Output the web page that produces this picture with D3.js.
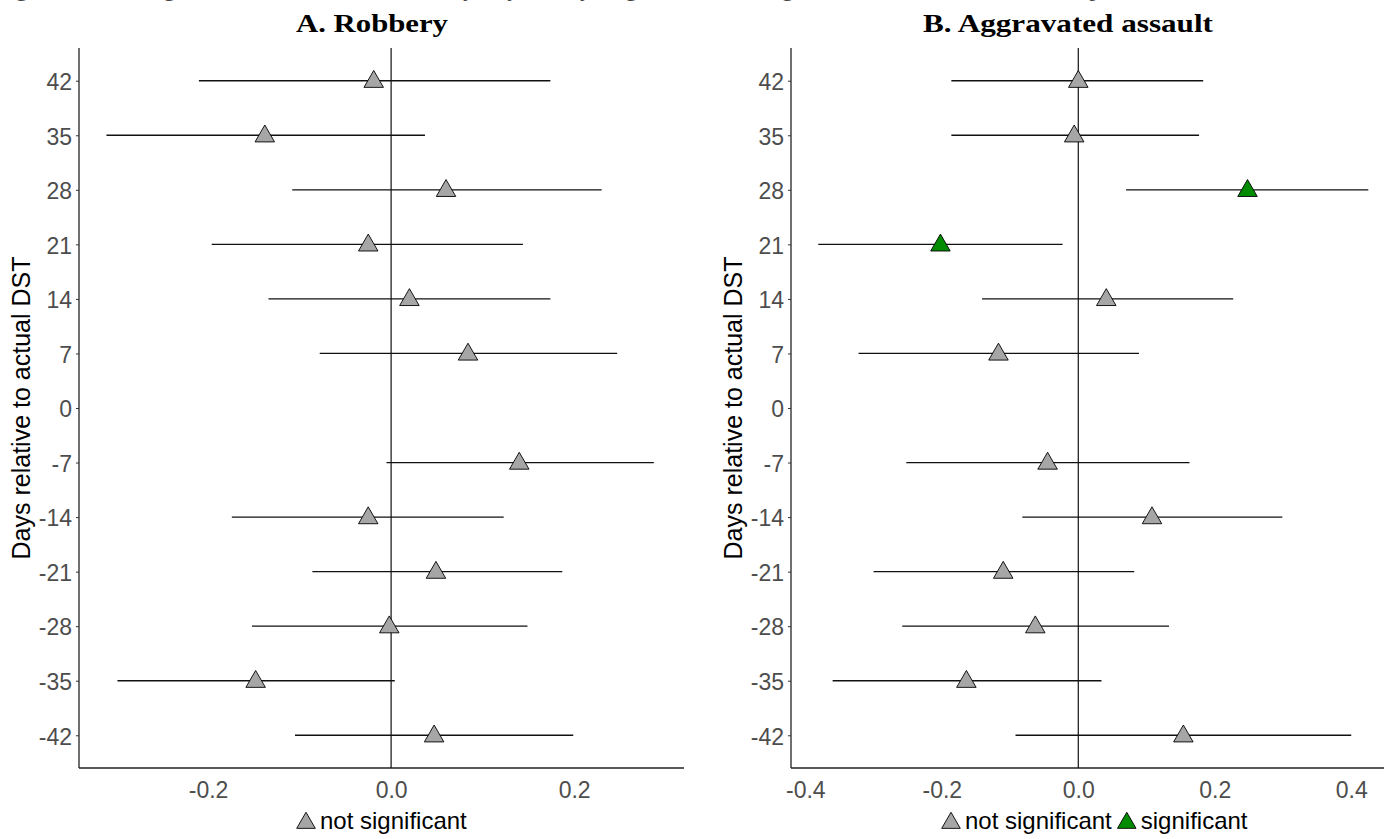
<!DOCTYPE html>
<html>
<head>
<meta charset="utf-8">
<script src="https://cdn.jsdelivr.net/npm/d3@7"></script>
<style>
  body { margin: 0; background: #fff; }
  svg { display: block; }
</style>
</head>
<body>
<svg id="chart"></svg>
<script>
const width = 1385, height = 839;

// days relative to actual DST (0 has no estimate)
const days = [42, 35, 28, 21, 14, 7, 0, -7, -14, -21, -28, -35, -42];
const estDays = [42, 35, 28, 21, 14, 7, -7, -14, -21, -28, -35, -42];

// A. Robbery
const robEst = [-0.019, -0.138, 0.060, -0.025, 0.020, 0.084, 0.140, -0.025, 0.049, -0.002, -0.148, 0.047];
const robLo  = [-0.210, -0.311, -0.108, -0.196, -0.134, -0.078, -0.005, -0.174, -0.086, -0.152, -0.299, -0.105];
const robHi  = [0.174, 0.037, 0.230, 0.144, 0.174, 0.247, 0.287, 0.123, 0.187, 0.149, 0.004, 0.199];
const robSig = [0, 0, 0, 0, 0, 0, 0, 0, 0, 0, 0, 0];

// B. Aggravated assault
const aggEst = [0.000, -0.006, 0.248, -0.202, 0.041, -0.117, -0.045, 0.108, -0.110, -0.063, -0.164, 0.154];
const aggLo  = [-0.186, -0.186, 0.070, -0.381, -0.141, -0.322, -0.252, -0.082, -0.300, -0.258, -0.360, -0.092];
const aggHi  = [0.183, 0.177, 0.425, -0.023, 0.227, 0.089, 0.163, 0.299, 0.082, 0.133, 0.034, 0.400];
const aggSig = [0, 0, 1, 1, 0, 0, 0, 0, 0, 0, 0, 0];

const robTicks = [-0.2, 0.0, 0.2];
const aggTicks = [-0.4, -0.2, 0.0, 0.2, 0.4];

const svg = d3.select("#chart").attr("width", width).attr("height", height);

const sans = "Liberation Sans, Arial, Helvetica, sans-serif";
const serif = "Liberation Serif, Times New Roman, serif";
const fillFor = s => s ? "#008b00" : "#a6a6a6";
const fmtX = d => d3.format(".1f")(d).replace("\u2212", "-");

// caption of the page, cut off at the top edge (only descenders show)
svg.append("text").attr("x", -14).attr("y", -4)
  .attr("font-family", serif).attr("font-size", 24).attr("fill", "#444")
  .attr("textLength", 1400)
  .text("Figure 5: Regression discontinuity by varying the saving of the time switch, placebo date variates");

const y = d3.scaleLinear().domain([-46.2, 46.2]).range([768, 48]);

function panel(opts) {
  const { x0, x1, domain, ticks, title, titleX, titleW, est, lo, hi, sig, legend } = opts;
  const x = d3.scaleLinear().domain(domain).range([x0, x1]);
  const g = svg.append("g");

  // axes
  const ya = g.append("g").attr("transform", `translate(${x0},0)`)
    .call(d3.axisLeft(y).tickValues(days).tickSize(3).tickPadding(4).tickFormat(d => String(d)));
  const xa = g.append("g").attr("transform", "translate(0,768)")
    .call(d3.axisBottom(x).tickValues(ticks).tickSize(0).tickPadding(14).tickFormat(fmtX));
  [ya, xa].forEach(a => {
    a.select(".domain").attr("stroke", "#222").attr("stroke-width", 1.3);
    a.selectAll(".tick line").attr("stroke", "#333");
    a.selectAll("text").attr("font-family", sans).attr("font-size", 23).attr("fill", "#4d4d4d");
  });
  ya.selectAll("text").attr("dy", "0.38em");
  ya.select(".domain").attr("d", `M0,48V768`);
  xa.select(".domain").attr("d", `M${x0},0H${x1}`);

  // zero line
  g.append("line").attr("x1", x(0)).attr("x2", x(0)).attr("y1", 48).attr("y2", 768)
    .attr("stroke", "#111").attr("stroke-width", 1.2);

  // intervals
  g.selectAll(".ci").data(estDays).enter().append("line")
    .attr("x1", (d, i) => x(lo[i])).attr("x2", (d, i) => x(hi[i]))
    .attr("y1", d => y(d)).attr("y2", d => y(d))
    .attr("stroke", "#111").attr("stroke-width", 1.3);

  // points
  g.selectAll(".pt").data(estDays).enter().append("path")
    .attr("d", d3.symbol().type(d3.symbolTriangle).size(165))
    .attr("transform", (d, i) => `translate(${x(est[i])},${y(d) + 1})`)
    .attr("fill", (d, i) => fillFor(sig[i])).attr("stroke", "#000").attr("stroke-width", 0.9);

  // titles
  g.append("text").attr("x", titleX).attr("y", 32).attr("text-anchor", "middle")
    .attr("font-family", serif).attr("font-weight", "bold").attr("font-size", 26)
    .attr("textLength", titleW).attr("lengthAdjust", "spacingAndGlyphs")
    .attr("fill", "#000").text(title);
  g.append("text").attr("transform", `translate(${x0 - 49},408) rotate(-90)`).attr("text-anchor", "middle")
    .attr("font-family", sans).attr("font-size", 25).attr("fill", "#000")
    .text("Days relative to actual DST");

  // legend
  const lg = g.append("g").attr("transform", `translate(${legend.x},829)`);
  let cx = 0;
  legend.items.forEach(it => {
    lg.append("path").attr("d", d3.symbol().type(d3.symbolTriangle).size(150))
      .attr("transform", `translate(${cx + 9},-6)`)
      .attr("fill", fillFor(it.sig)).attr("stroke", "#000").attr("stroke-width", 0.9);
    const t = lg.append("text").attr("x", cx + 23).attr("y", 0)
      .attr("font-family", sans).attr("font-size", 24).attr("fill", "#000")
      .text(it.label);
    cx += 23 + t.node().getComputedTextLength() + 6;
  });
}

panel({
  x0: 79, x1: 684, domain: [-0.341, 0.320], ticks: robTicks,
  title: "A. Robbery", titleX: 372, titleW: 152,
  est: robEst, lo: robLo, hi: robHi, sig: robSig,
  legend: { x: 297, items: [{ sig: 0, label: "not significant" }] }
});

panel({
  x0: 791, x1: 1384, domain: [-0.421, 0.448], ticks: aggTicks,
  title: "B. Aggravated assault", titleX: 1068, titleW: 290,
  est: aggEst, lo: aggLo, hi: aggHi, sig: aggSig,
  legend: { x: 942, items: [{ sig: 0, label: "not significant" }, { sig: 1, label: "significant" }] }
});
</script>
</body>
</html>
